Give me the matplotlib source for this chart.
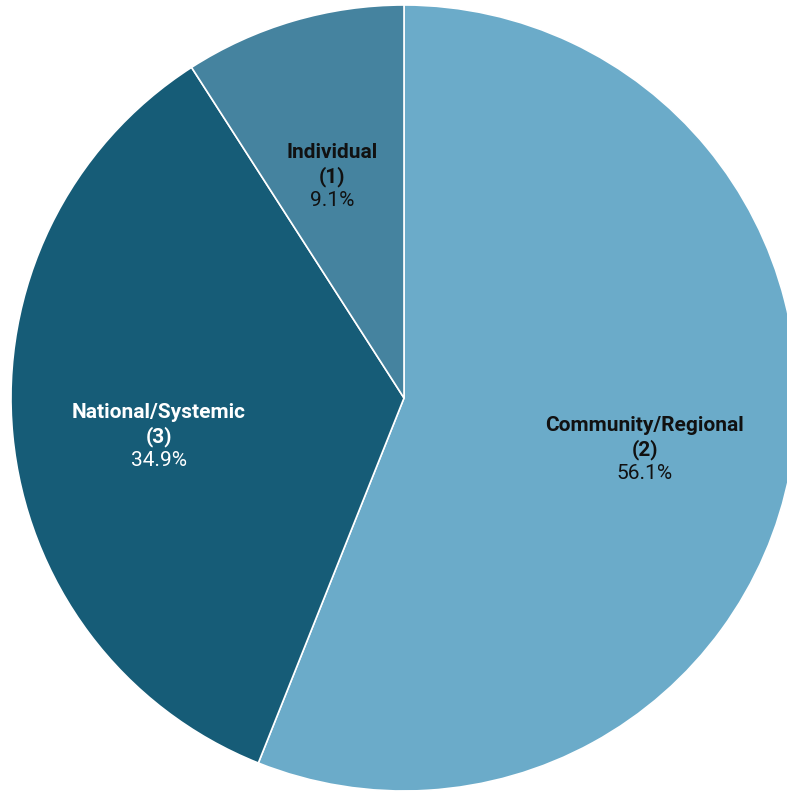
import matplotlib
matplotlib.use("Agg")
import matplotlib.pyplot as plt

categories = ["Community/Regional", "National/Systemic", "Individual"]
codes = ["(2)", "(3)", "(1)"]
values = [56.1, 34.9, 9.1]
colors = ["#6BABC9", "#165C77", "#45839F"]
text_colors = ["#111111", "#ffffff", "#111111"]
label_pos = [(241, -52), (-245, -39), (-72, 221)]

fig = plt.figure(figsize=(7.87, 7.92), dpi=100)
ax = fig.add_axes([0, 0, 1, 1])
R = 393
ax.pie(values, colors=colors, startangle=90, counterclock=False, radius=R,
       center=(0, 0), wedgeprops=dict(edgecolor="white", linewidth=1.2))
ax.set_xlim(-404, 383)
ax.set_ylim(-394, 398)
ax.set_aspect("equal")
ax.axis("off")

fs = 15
for cat, code, v, tc, (x, y) in zip(categories, codes, values, text_colors, label_pos):
    ax.text(x, y + 24, cat, ha="center", va="center", fontsize=fs, fontweight="bold",
            family="Roboto", color=tc)
    ax.text(x, y, code, ha="center", va="center", fontsize=fs, fontweight="bold",
            family="Roboto", color=tc)
    ax.text(x, y - 24, f"{v:.1f}%", ha="center", va="center", fontsize=fs,
            family="Roboto", color=tc)

fig.savefig("out.png", dpi=100, facecolor="white")
